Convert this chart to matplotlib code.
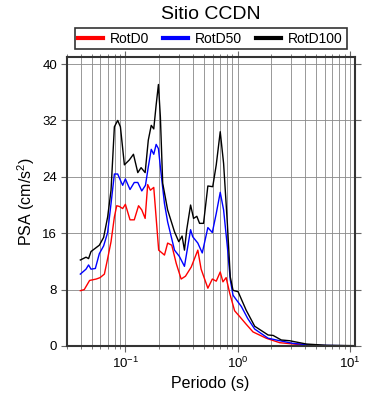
import numpy as np
import matplotlib
matplotlib.use("Agg")
import matplotlib.pyplot as plt
from matplotlib.ticker import LogLocator, NullFormatter, FixedLocator

plt.rcParams["font.family"] = ["Liberation Sans", "DejaVu Sans"]
plt.rcParams["mathtext.fontset"] = "custom"
plt.rcParams["mathtext.rm"] = "Liberation Sans"

# RotD100 (black)
per_d100 = [0.0397, 0.0446, 0.047, 0.0494, 0.0586, 0.064, 0.0695, 0.0745, 0.0798, 0.0854,
            0.0903, 0.098, 0.1085, 0.118, 0.129, 0.138, 0.150, 0.160, 0.170, 0.179,
            0.188, 0.197, 0.205, 0.215, 0.238, 0.274, 0.299, 0.32, 0.336, 0.352,
            0.381, 0.405, 0.433, 0.458, 0.497, 0.543, 0.60, 0.645, 0.70, 0.75,
            0.81, 0.86, 0.91, 1.01, 1.19, 1.42, 1.87, 2.07, 2.45, 2.9, 4.1, 6.2, 10.6]
psa_d100 = [12.2, 12.6, 12.4, 13.4, 14.3, 15.4, 18.3, 22.1, 31.1, 32.0,
            31.1, 25.7, 26.4, 27.2, 24.6, 25.3, 24.6, 29.2, 31.3, 30.8,
            34.2, 37.1, 32.5, 23.1, 19.3, 16.2, 14.8, 15.6, 13.6, 16.5,
            20.0, 18.1, 18.4, 17.4, 17.4, 22.7, 22.6, 25.7, 30.4, 25.9,
            17.4, 9.8, 7.9, 7.7, 5.1, 2.8, 1.56, 1.5, 0.85, 0.75, 0.28, 0.1, 0.05]

# RotD50 (blue)
per_d50 = [0.0397, 0.0446, 0.047, 0.0494, 0.054, 0.0586, 0.064, 0.0695, 0.0745, 0.0798,
           0.0854, 0.0915, 0.0946, 0.100, 0.110, 0.120, 0.129, 0.140, 0.151, 0.160,
           0.170, 0.179, 0.188, 0.197, 0.205, 0.223, 0.238, 0.274, 0.303, 0.336,
           0.381, 0.398, 0.442, 0.484, 0.543, 0.595, 0.645, 0.70, 0.75, 0.81,
           0.86, 0.91, 0.98, 1.08, 1.23, 1.42, 1.87, 2.37, 3.1, 4.7, 10.6]
psa_d50 = [10.2, 10.9, 11.5, 10.9, 11.0, 13.1, 14.2, 16.1, 20.2, 24.4,
           24.4, 23.3, 22.8, 23.7, 22.2, 23.2, 23.2, 22.0, 22.8, 25.4,
           27.9, 27.2, 28.6, 28.0, 25.4, 20.2, 17.6, 13.6, 12.7, 11.3,
           16.5, 15.5, 14.6, 13.2, 16.8, 16.1, 18.8, 21.8, 19.3, 14.1,
           9.4, 7.2, 6.5, 5.6, 3.9, 2.4, 1.1, 0.75, 0.38, 0.1, 0.03]

# RotD0 (red)
per_d0 = [0.0397, 0.043, 0.048, 0.055, 0.0595, 0.065, 0.0695, 0.0745, 0.0798, 0.0837,
          0.0884, 0.0946, 0.100, 0.110, 0.120, 0.131, 0.140, 0.150, 0.158, 0.167,
          0.179, 0.198, 0.223, 0.238, 0.259, 0.284, 0.314, 0.343, 0.386, 0.442,
          0.473, 0.543, 0.595, 0.645, 0.70, 0.74, 0.79, 0.85, 0.94, 1.04, 1.19,
          1.37, 1.8, 2.37, 3.3, 5.4, 10.6]
psa_d0 = [7.85, 8.0, 9.3, 9.5, 9.7, 10.2, 12.4, 14.8, 18.3, 19.9,
          19.8, 19.5, 20.1, 17.9, 17.9, 19.9, 19.3, 18.1, 22.9, 22.1,
          22.5, 13.6, 12.9, 14.6, 14.3, 11.7, 9.5, 9.9, 11.2, 13.6,
          10.9, 8.2, 9.5, 9.2, 10.5, 9.1, 9.7, 7.5, 5.0, 4.2, 3.1,
          2.0, 1.1, 0.47, 0.25, 0.05, 0.02]

yticks = [0, 8, 16, 24, 32, 40]

fig = plt.figure(figsize=(3.9, 4.0), dpi=100)
ax = fig.add_axes([0.171, 0.135, 0.738, 0.7225])

ax.plot(per_d0, psa_d0, color="red", lw=1.0, label="RotD0")
ax.plot(per_d50, psa_d50, color="blue", lw=1.0, label="RotD50")
ax.plot(per_d100, psa_d100, color="black", lw=1.0, label="RotD100")

ax.set_xscale("log")
ax.set_xlim(0.03, 11)
ax.set_ylim(0, 41)
ax.yaxis.set_major_locator(FixedLocator(yticks))
ax.xaxis.set_minor_locator(LogLocator(base=10, subs=np.arange(2, 10)))
ax.xaxis.set_minor_formatter(NullFormatter())

ax.grid(True, which="both", axis="x", color="#888888", lw=0.6)
ax.grid(True, which="major", axis="y", color="#888888", lw=0.6)

for s in ax.spines.values():
    s.set_color("#333333")
    s.set_linewidth(1.5)
ax.tick_params(which="both", direction="out", top=True, right=True,
               color="#666666", labelsize=9.5, pad=3)
ax.tick_params(which="major", length=4)
ax.tick_params(which="minor", length=2.5)

ax.set_xlabel("Periodo (s)", fontsize=11.5, labelpad=4)
ax.set_ylabel("PSA (cm/s$^2$)", fontsize=11.5, labelpad=4)

fig.text(0.54, 0.963, "Sitio CCDN", ha="center", va="center", fontsize=14)

leg = fig.legend(loc="center", bbox_to_anchor=(0.54, 0.903), ncol=3,
                 fontsize=10, frameon=True, fancybox=False, handlelength=1.8,
                 columnspacing=1.0, handletextpad=0.5, borderpad=0.25,
                 borderaxespad=0, bbox_transform=fig.transFigure)
leg.get_frame().set_edgecolor("black")
leg.get_frame().set_linewidth(1.2)
for h in leg.legend_handles:
    h.set_linewidth(3)

fig.savefig("out.png", dpi=100)
